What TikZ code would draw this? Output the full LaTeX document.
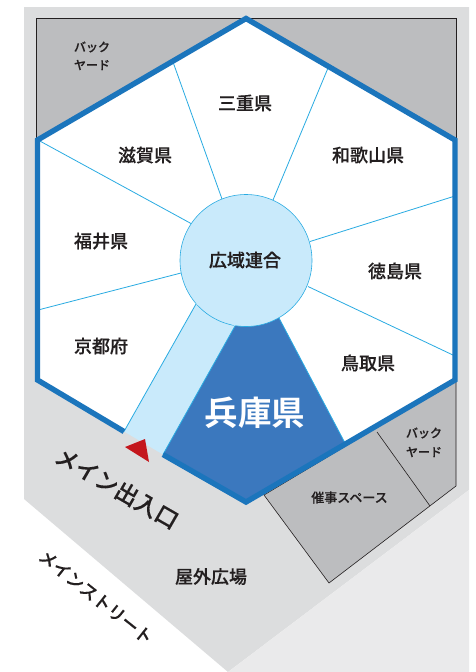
\documentclass[tikz,border=0pt]{standalone}
\usepackage{fontspec}
\setmainfont{Liberation Sans}
\newfontfamily\jp{Noto Sans CJK JP Medium}[FakeBold=0.35]
\newfontfamily\jpb{Noto Sans CJK JP Bold}
\definecolor{bgdark}{HTML}{DCDDDE}
\definecolor{bglight}{HTML}{EAEAEB}
\definecolor{yard}{HTML}{BCBDBF}
\definecolor{hexblue}{HTML}{1B75BC}
\definecolor{thin}{HTML}{29ABE2}
\definecolor{pale}{HTML}{C9EAFB}
\definecolor{wedge}{HTML}{3B78BE}
\definecolor{inkc}{HTML}{231F20}
\definecolor{redc}{HTML}{C4161C}
\tikzset{
  pref/.style={font=\jp\fontsize{18}{20}\selectfont,text=inkc,inner sep=0pt},
  small/.style={font=\jp\fontsize{12}{14}\selectfont,text=inkc,inner sep=0pt},
  divider/.style={draw=thin,line width=0.8pt},
  yardline/.style={draw=inkc,line width=0.6pt},
  hexline/.style={draw=hexblue,line width=5.4pt,line join=miter}
}
\begin{document}
\begin{tikzpicture}[x=1pt,y=-1pt]
\useasboundingbox (0,0) rectangle (475,672);
% corners
\coordinate (hT) at (246,18.5);
\coordinate (hTL) at (37.5,140);
\coordinate (hBL) at (37.5,380);
\coordinate (hB) at (246,502);
\coordinate (hBR) at (455,380);
\coordinate (hTR) at (455,140);
\coordinate (gapL) at (124,431.5);
\coordinate (gapR) at (163,454.5);
% ground
\fill[bgdark] (24,7) -- (469,7) -- (469,490) -- (228,672) -- (24,499) -- cycle;
\fill[bglight] (228,672) -- (469,490) -- (469,672) -- cycle;
% yards
\filldraw[fill=yard,yardline] (36.5,140) -- (36.5,18) -- (456,18) -- (456,140) -- cycle;
\filldraw[fill=yard,yardline] (264,495) -- (329,583) -- (456,486) -- (456,380) -- cycle;
\coordinate (ya) at (377,432);
\coordinate (yb) at (430,506);
\draw[yardline] (ya) -- (yb);
% hexagon
\fill[white] (hT) -- (hTR) -- (hBR) -- (hB) -- (hBL) -- (hTL) -- cycle;
% corridor
\fill[pale] (196,304) -- (gapL) -- (gapR) -- (235,326) -- cycle;
\draw[divider] (196,304) -- (gapL);
% wedge
\fill[wedge] (235,326) -- (279,318) -- (345,443) -- (hB) -- (gapR) -- cycle;
\draw[divider] (235,326) -- (gapR);
\draw[divider] (279,318) -- (345,443);
% circle
\node[circle,minimum size=132pt,inner sep=0pt,fill=pale,draw=thin,line width=0.6pt] (hub) at (246,260.5) {};
\fill[pale] (196,304) -- (235,326) -- (246,300) -- (215,285) -- cycle;
% dividers
\coordinate (d1) at (173,62); \coordinate (e1) at (222,199);
\coordinate (d2) at (328,68); \coordinate (e2) at (273,200);
\coordinate (d3) at (38,140); \coordinate (e3) at (191,223.5);
\coordinate (d4) at (38,310); \coordinate (e4) at (181,273);
\coordinate (d5) at (455,196); \coordinate (e5) at (310,241.5);
\coordinate (d6) at (455,356); \coordinate (e6) at (308,286.5);
\foreach \n in {1,...,6} \draw[divider] (d\n) -- (e\n);
% hex outline
\draw[hexline,line cap=butt] (gapL) -- (hBL) -- (hTL) -- (hT) -- (hTR) -- (hBR) -- (hB) -- (gapR);
% entrance
\fill[redc] (125,447) -- (145,439) -- (149,462) -- cycle;
% labels
\node[pref] (n1) at (245,103) {三重県};
\node[pref] (n2) at (368,155) {和歌山県};
\node[pref] (n3) at (145,155) {滋賀県};
\node[pref] (n4) at (101,241) {福井県};
\node[pref] (n5) at (245,260) {広域連合};
\node[pref] (n6) at (395,271) {徳島県};
\node[pref] (n7) at (101,346) {京都府};
\node[pref] (n8) at (368,363) {鳥取県};
\node[inner sep=0pt,text=white,font=\jpb\fontsize{33.5}{36}\selectfont] (n9) at (255,412.5) {兵庫県};
\node[small] (y1) at (92,47) {バック};
\node[small] (y2) at (92,65) {ヤード};
\node[small] (y3) at (424,433) {バック};
\node[small] (y4) at (424,452) {ヤード};
\node[small,font=\jp\fontsize{13}{14}\selectfont] (ev) at (349.5,497.5) {催事スペース};
\node[pref] (pl) at (211,576.5) {屋外広場};
\node[inner sep=0pt,text=inkc,rotate=-30,font=\jp\fontsize{23}{24}\selectfont] (ent) at (117,488) {メイン出入口};
\node[inner sep=0pt,text=inkc,rotate=-38.5,font=\jp\fontsize{17.5}{20}\selectfont] (st) at (96,597) {メインストリート};
\end{tikzpicture}
\end{document}
